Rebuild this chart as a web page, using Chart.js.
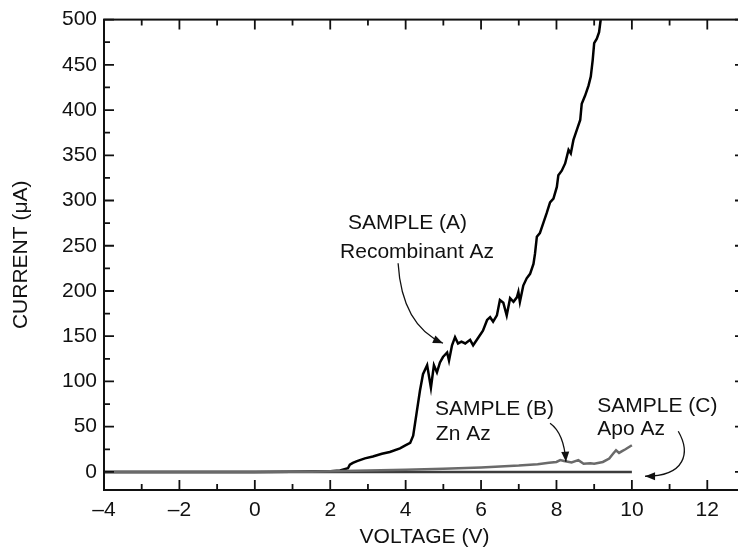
<!DOCTYPE html>
<html>
<head>
<meta charset="utf-8">
<script src="https://cdn.jsdelivr.net/npm/chart.js@4.4.1/dist/chart.umd.min.js"></script>
<style>
  html, body { margin: 0; padding: 0; overflow: hidden; background: #fff; }
  #wrap { width: 760px; height: 548px; }
</style>
</head>
<body>
<div id="wrap"><canvas id="iv" width="760" height="548"></canvas></div>
<script>
// I–V curves of the three azurin samples (voltage in V, current in µA)
const voltageA = [-4, -2, 0, 1, 1.6, 2.0, 2.26, 2.47, 2.52, 2.60, 2.71, 2.92, 3.13, 3.37, 3.58, 3.85, 3.98, 4.12, 4.20, 4.29,
  4.38, 4.46, 4.57, 4.67, 4.75, 4.83, 4.91, 4.99, 5.10, 5.15, 5.23, 5.31, 5.39, 5.48, 5.58, 5.71, 5.79, 5.92, 6.05, 6.16,
  6.24, 6.32, 6.42, 6.50, 6.59, 6.68, 6.77, 6.86, 6.95, 6.99, 7.03, 7.12, 7.21, 7.30, 7.39, 7.43, 7.48, 7.56, 7.65, 7.74,
  7.83, 7.92, 8.01, 8.05, 8.14, 8.23, 8.32, 8.38, 8.45, 8.54, 8.63, 8.67, 8.76, 8.85, 8.91, 8.96, 9.00, 9.07, 9.13, 9.17, 9.22];
const currentA = [0, 0, 0, 0.2, 0.4, 0.8, 1.5, 4, 8, 10, 12, 15, 17, 20, 22, 26, 29, 32, 40, 65,
  90, 108, 118, 93, 118, 110, 121, 127, 132, 123, 140, 149, 142, 144, 142, 146, 140, 148, 156, 168,
  171, 166, 173, 190, 187, 173, 192, 188, 193, 199, 188, 206, 214, 219, 230, 241, 260, 264, 275, 286,
  298, 302, 315, 328, 333, 341, 356, 352, 367, 378, 389, 407, 416, 427, 437, 455, 474, 479, 486, 499, 512];

const voltageB = [-4, -2, 0, 1, 1.5, 2, 3, 4, 5, 6, 7, 7.5, 7.8, 8.0, 8.1, 8.2, 8.4, 8.58, 8.72, 8.9,
  9.0, 9.23, 9.4, 9.5, 9.58, 9.66, 9.74, 9.83, 10.0];
const currentB = [0, 0, 0, 0.1, 0.3, 0.6, 1.5, 2.5, 3.5, 5, 7, 8.5, 10, 11, 13, 12, 10.5, 13, 9, 9.5,
  9, 11, 14.8, 20, 24, 21, 23, 25, 29.5];

const voltageC = [-4, 0, 4, 8, 10];
const currentC = [0, 0, 0, 0, 0];

const xTickValues = [-4, -2, 0, 2, 4, 6, 8, 10, 12];
const yTickValues = [0, 50, 100, 150, 200, 250, 300, 350, 400, 450, 500];
const xMinorValues = [-3, -1, 1, 3, 5, 7, 9, 11];
const yMinorValues = [25, 75, 125, 175, 225, 275, 325, 375, 425, 475];

const labelTexts = [
  { text: 'SAMPLE (A)', x: 2.47, y: 268 },
  { text: 'Recombinant Az', x: 2.26, y: 237 },
  { text: 'SAMPLE (B)', x: 4.78, y: 62.7 },
  { text: 'Zn Az', x: 4.80, y: 35 },
  { text: 'SAMPLE (C)', x: 9.08, y: 66.5 },
  { text: 'Apo Az', x: 9.08, y: 40.6 }
];

// pointer curves from each caption to its trace (data units)
const pointers = [
  { from: [3.80, 230.6], c1: [3.90, 162.1], to: [4.99, 142.2] },
  { from: [7.83, 53.8], c1: [8.20, 42.8], to: [8.25, 11.3] },
  { from: [11.23, 45], c1: [11.55, 21.8], c2: [11.44, -4.8], to: [10.35, -4.8] }
];

const INK = '#111';
const FONT = { family: '"Liberation Sans", Arial, Helvetica, sans-serif', size: 21 };

const toPoints = (xs, ys) => xs.map((v, i) => ({ x: v, y: ys[i] }));

const framePlugin = {
  id: 'frame',
  afterDatasetsDraw(chart) {
    const { ctx, chartArea: { left, right, top, bottom }, scales: { x, y } } = chart;
    ctx.save();
    ctx.strokeStyle = INK;
    ctx.lineWidth = 2;
    ctx.strokeRect(left, top, right - left, bottom - top);
    ctx.lineWidth = 1.8;
    ctx.beginPath();
    const xTick = (v, len) => {
      const p = x.getPixelForValue(v);
      ctx.moveTo(p, bottom); ctx.lineTo(p, bottom - len);
      ctx.moveTo(p, top); ctx.lineTo(p, top + len);
    };
    const yTick = (v, len) => {
      const p = y.getPixelForValue(v);
      ctx.moveTo(left, p); ctx.lineTo(left + len, p);
      ctx.moveTo(right, p); ctx.lineTo(right - len, p);
    };
    xTickValues.forEach(v => xTick(v, 10));
    xMinorValues.forEach(v => xTick(v, 6));
    yTickValues.forEach(v => yTick(v, 10));
    yMinorValues.forEach(v => yTick(v, 6));
    ctx.stroke();
    ctx.restore();
  }
};

const notePlugin = {
  id: 'notes',
  afterDraw(chart) {
    const { ctx, scales: { x, y } } = chart;
    const px = p => [x.getPixelForValue(p[0]), y.getPixelForValue(p[1])];
    ctx.save();
    ctx.fillStyle = INK;
    ctx.font = FONT.size + 'px ' + FONT.family;
    ctx.textAlign = 'left';
    ctx.textBaseline = 'alphabetic';
    labelTexts.forEach(t => ctx.fillText(t.text, x.getPixelForValue(t.x), y.getPixelForValue(t.y)));

    ctx.strokeStyle = INK;
    ctx.lineWidth = 1.3;
    pointers.forEach(a => {
      const s = px(a.from), e = px(a.to), c1 = px(a.c1);
      const c2 = a.c2 ? px(a.c2) : null;
      ctx.beginPath();
      ctx.moveTo(s[0], s[1]);
      if (c2) ctx.bezierCurveTo(c1[0], c1[1], c2[0], c2[1], e[0], e[1]);
      else ctx.quadraticCurveTo(c1[0], c1[1], e[0], e[1]);
      ctx.stroke();
      const ref = c2 || c1;
      const ang = Math.atan2(e[1] - ref[1], e[0] - ref[0]);
      const L = 10, W = 4;
      ctx.beginPath();
      ctx.moveTo(e[0], e[1]);
      ctx.lineTo(e[0] - L * Math.cos(ang) + W * Math.sin(ang), e[1] - L * Math.sin(ang) - W * Math.cos(ang));
      ctx.lineTo(e[0] - L * Math.cos(ang) - W * Math.sin(ang), e[1] - L * Math.sin(ang) + W * Math.cos(ang));
      ctx.closePath();
      ctx.fill();
    });
    ctx.restore();
  }
};

const lineStyle = (color, order) => ({
  borderColor: color, borderWidth: 2.5, pointRadius: 0, tension: 0,
  fill: false, order: order, clip: 0
});

new Chart(document.getElementById('iv'), {
  type: 'line',
  data: {
    datasets: [
      Object.assign({ label: 'SAMPLE (A) Recombinant Az', data: toPoints(voltageA, currentA) }, lineStyle('#000', 2)),
      Object.assign({ label: 'SAMPLE (C) Apo Az', data: toPoints(voltageC, currentC) }, lineStyle('#3c3c3c', 1)),
      Object.assign({ label: 'SAMPLE (B) Zn Az', data: toPoints(voltageB, currentB) }, lineStyle('#6a6a6a', 0))
    ]
  },
  options: {
    responsive: false,
    animation: false,
    devicePixelRatio: 1,
    layout: { padding: { top: 19, right: 15, left: 0, bottom: 0 } },
    plugins: { legend: { display: false }, tooltip: { enabled: false } },
    scales: {
      x: {
        type: 'linear', min: -4, max: 13,
        grid: { display: false, drawTicks: false },
        border: { display: false },
        afterBuildTicks: s => { s.ticks = xTickValues.map(v => ({ value: v })); },
        afterFit: s => { s.height = 58; },
        ticks: {
          padding: 8, color: INK, font: FONT, maxRotation: 0, autoSkip: false,
          callback: v => (v < 0 ? '\u2013' + Math.abs(v) : String(v))
        },
        title: {
          display: true, text: 'VOLTAGE (V)', color: INK,
          font: Object.assign({ lineHeight: 1 }, FONT), padding: { top: 0, bottom: 0 }
        }
      },
      y: {
        type: 'linear', min: -20, max: 500,
        grid: { display: false, drawTicks: false },
        border: { display: false },
        afterBuildTicks: s => { s.ticks = yTickValues.map(v => ({ value: v })); },
        afterFit: s => { s.width = 104; },
        ticks: { padding: 7, color: INK, font: FONT, autoSkip: false },
        title: {
          display: true, text: 'CURRENT (\u03BCA)', color: INK,
          font: Object.assign({ lineHeight: 1 }, FONT), padding: { top: 11, bottom: 0 }
        }
      }
    }
  },
  plugins: [framePlugin, notePlugin]
});
</script>
</body>
</html>
